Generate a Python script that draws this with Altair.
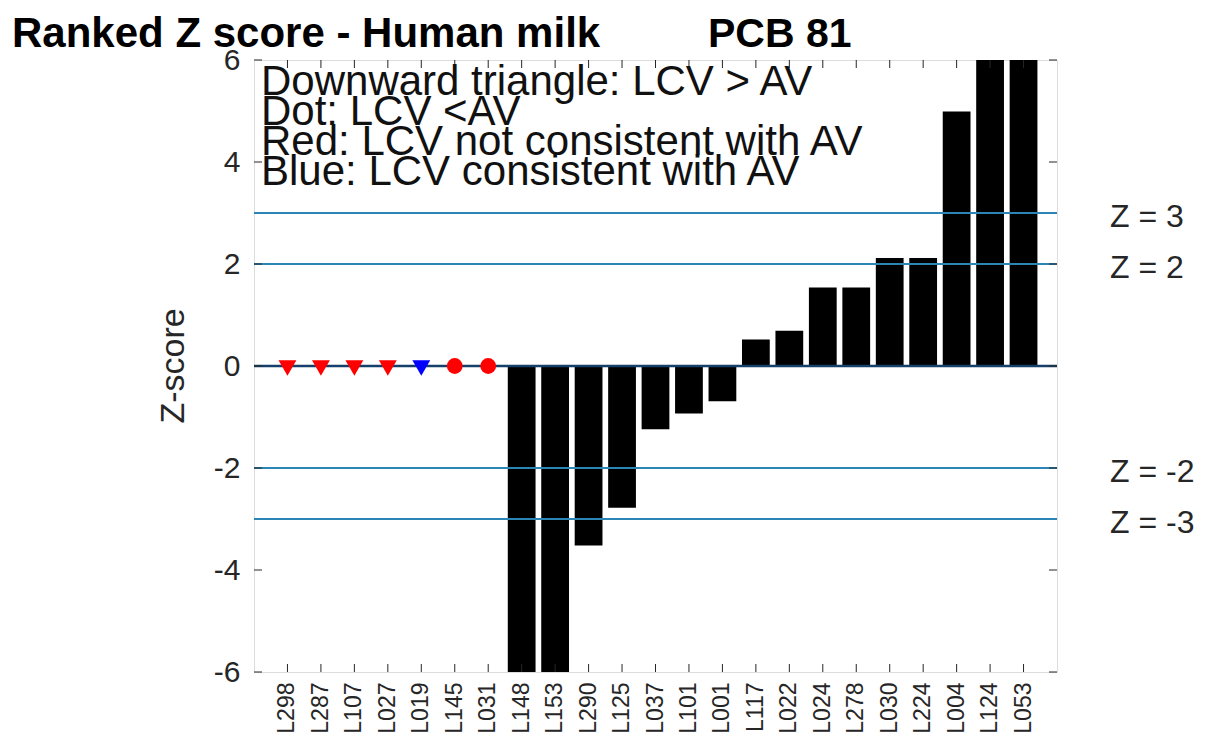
import altair as alt
import pandas as pd

# ---- data ----
labs = ["L298", "L287", "L107", "L027", "L019", "L145", "L031", "L148", "L153",
        "L290", "L125", "L037", "L101", "L001", "L117", "L022", "L024", "L278",
        "L030", "L224", "L004", "L124", "L053"]
# z-scores of the labs drawn as bars (off-scale values clipped at +/-6)
bar_labs = ["L148", "L153", "L290", "L125", "L037", "L101", "L001", "L117", "L022",
            "L024", "L278", "L030", "L224", "L004", "L124", "L053"]
bar_z = [-7.0, -7.0, -3.52, -2.78, -1.24, -0.93, -0.69, 0.52, 0.69,
         1.54, 1.54, 2.12, 2.12, 4.99, 7.0, 7.0]
# labs shown as markers on the zero line
mark_labs = ["L298", "L287", "L107", "L027", "L019", "L145", "L031"]
mark_shape = ["tri", "tri", "tri", "tri", "tri", "dot", "dot"]
mark_color = ["red", "red", "red", "red", "blue", "red", "red"]
mark_z = [0, 0, 0, 0, 0, 0, 0]

ref_z = [3, 2, -2, -3]
ref_text = ["Z = 3", "Z = 2", "Z = -2", "Z = -3"]
yticks = [-6, -4, -2, 0, 2, 4, 6]
note_lines = ["Downward triangle: LCV > AV", "Dot: LCV <AV",
              "Red: LCV not consistent with AV", "Blue: LCV consistent with AV"]
title_left = "Ranked Z score - Human milk"
title_right = "PCB 81"
y_title = "Z-score"

W, H = 803, 612
FONT = "Liberation Sans"

xscale = alt.Scale(domain=labs, paddingInner=0.17, paddingOuter=0.585)
yscale = alt.Scale(domain=[-6, 6], nice=False, zero=False)
cscale = alt.Scale(domain=["red", "blue"], range=["#ff0000", "#0000ff"])

bars_df = pd.DataFrame({"lab": bar_labs, "z": bar_z})
marks_df = pd.DataFrame({"lab": mark_labs, "shape": mark_shape,
                         "color": mark_color, "z": mark_z})
ref_df = pd.DataFrame({"z": ref_z, "t": ref_text})
yt_df = pd.DataFrame({"z": yticks})
lab_df = pd.DataFrame({"lab": labs})

xaxis = alt.Axis(title=None, labelAngle=270, labelAlign="right",
                 labelBaseline="middle", labelFont=FONT, labelFontSize=23,
                 labelColor="#262626", labelPadding=10, ticks=False,
                 domain=False, grid=False)
yaxis = alt.Axis(title=None, values=yticks, labelFont=FONT, labelFontSize=30,
                 labelColor="#262626", labelPadding=14, ticks=False,
                 domain=False, grid=False, labelExpr="'' + datum.value")
X = alt.X("lab:N", scale=xscale, sort=labs, axis=xaxis)
Y = alt.Y("z:Q", scale=yscale, axis=yaxis)

bars = alt.Chart(bars_df).mark_bar(color="black", clip=True).encode(x=X, y=Y)

ref_lines = alt.Chart(ref_df).mark_rule(color="#2b86b5", strokeWidth=2).encode(
    y=Y, x=alt.value(0), x2=alt.value(W))
zero_line = alt.Chart(pd.DataFrame({"z": [0]})).mark_rule(
    color="#15406b", strokeWidth=2.5).encode(y=Y, x=alt.value(0), x2=alt.value(W))

ref_labels = alt.Chart(ref_df).mark_text(
    align="left", baseline="middle", font=FONT, fontSize=32, color="#262626",
    dy=4).encode(y=Y, x=alt.value(W + 53), text="t:N")

tri = alt.Chart(marks_df).transform_filter(alt.datum.shape == "tri").mark_point(
    shape="triangle-down", filled=True, size=320, opacity=1, yOffset=2).encode(
    x=X, y=Y, color=alt.Color("color:N", scale=cscale, legend=None))
dots = alt.Chart(marks_df).transform_filter(alt.datum.shape == "dot").mark_point(
    shape="circle", filled=True, size=250, opacity=1).encode(
    x=X, y=Y, color=alt.Color("color:N", scale=cscale, legend=None))

# inward ticks (MATLAB style box)
tk = "#262626"
ytick_l = alt.Chart(yt_df).mark_rule(color=tk, strokeWidth=1).encode(
    y=Y, x=alt.value(0), x2=alt.value(8))
ytick_r = alt.Chart(yt_df).mark_rule(color=tk, strokeWidth=1).encode(
    y=Y, x=alt.value(W - 8), x2=alt.value(W))
xtick_b = alt.Chart(lab_df).mark_rule(color=tk, strokeWidth=1).encode(
    x=X, y=alt.value(H - 8), y2=alt.value(H))
xtick_t = alt.Chart(lab_df).mark_rule(color=tk, strokeWidth=1).encode(
    x=X, y=alt.value(0), y2=alt.value(8))

notes = alt.Chart(pd.DataFrame({"k": [0]})).mark_text(
    align="left", baseline="alphabetic", font=FONT, fontSize=42, color="#111111",
    lineHeight=30).encode(x=alt.value(7), y=alt.value(35), text=alt.value(note_lines))

title_l = alt.Chart(pd.DataFrame({"t": [title_left]})).mark_text(
    align="left", baseline="alphabetic", font=FONT, fontSize=42, fontWeight="bold",
    color="black").encode(x=alt.value(-242), y=alt.value(-13), text="t:N")
title_r = alt.Chart(pd.DataFrame({"t": [title_right]})).mark_text(
    align="left", baseline="alphabetic", font=FONT, fontSize=41, fontWeight="bold",
    color="black").encode(x=alt.value(454), y=alt.value(-13), text="t:N")

ytitle = alt.Chart(pd.DataFrame({"t": [y_title]})).mark_text(
    angle=270, align="center", baseline="middle", font=FONT, fontSize=34,
    color="#262626").encode(x=alt.value(-80), y=alt.value(H / 2), text="t:N")

chart = alt.layer(
    bars, ref_lines, zero_line, tri, dots, ytick_l, ytick_r, xtick_b, xtick_t,
    notes, ref_labels, title_l, title_r, ytitle
).properties(
    width=W, height=H,
    autosize=alt.AutoSizeParams(type="none"),
    padding={"left": 246, "top": 52, "right": 140, "bottom": 62},
).configure_view(stroke="#262626", strokeWidth=1.5).configure(background="white")

chart.save("out.html", embed_options={"renderer": "svg", "actions": False})
